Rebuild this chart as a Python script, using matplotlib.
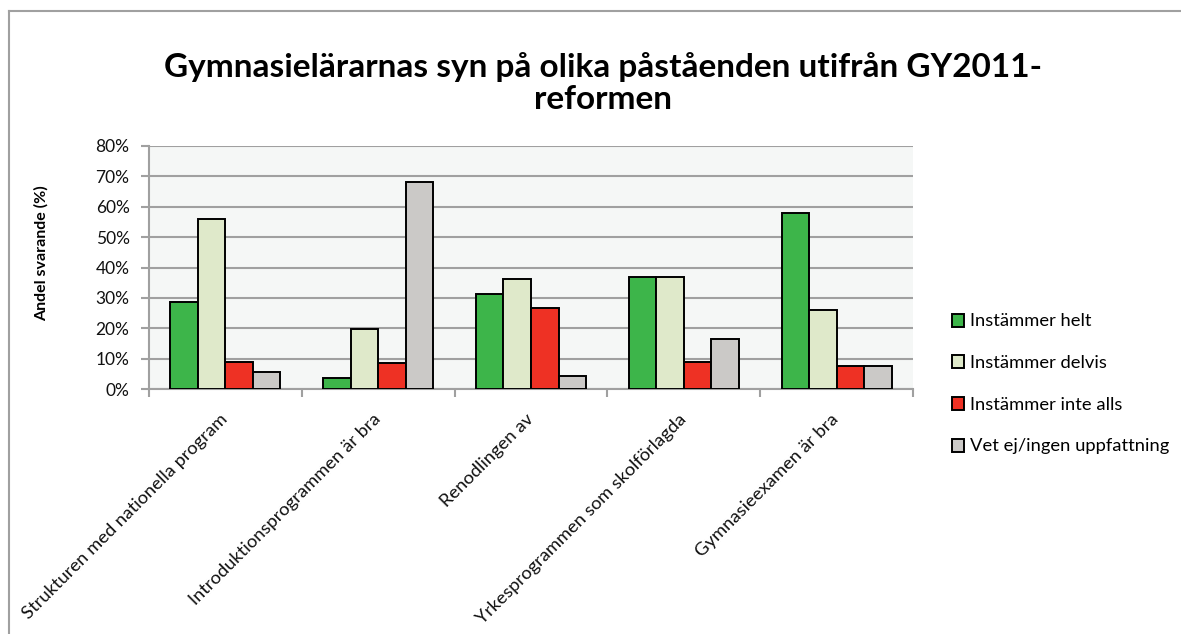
import matplotlib
matplotlib.use("Agg")
import matplotlib.pyplot as plt
from matplotlib.lines import Line2D
from matplotlib.ticker import FuncFormatter, FixedLocator
from matplotlib.transforms import ScaledTranslation
import numpy as np

categories = [
    "Strukturen med nationella program",
    "Introduktionsprogrammen är bra",
    "Renodlingen av",
    "Yrkesprogrammen som skolförlagda",
    "Gymnasieexamen är bra",
]
series_names = ["Instämmer helt", "Instämmer delvis", "Instämmer inte alls", "Vet ej/ingen uppfattning"]
instammer_helt = [28.6, 3.6, 31.4, 36.8, 58.0]
instammer_delvis = [56.0, 19.8, 36.1, 36.8, 26.0]
instammer_inte = [9.0, 8.5, 26.8, 8.9, 7.5]
vet_ej = [5.7, 68.0, 4.3, 16.3, 7.5]
values = [instammer_helt, instammer_delvis, instammer_inte, vet_ej]
colors = ["#3DB54A", "#DFE9CA", "#EE3124", "#CBC9C7"]
y_ticks = [0, 10, 20, 30, 40, 50, 60, 70, 80]

plt.rcParams['font.family'] = ['Lato', 'DejaVu Sans']

W, H = 1181, 634
fig = plt.figure(figsize=(W / 100, H / 100), dpi=100)
ax = fig.add_axes([149 / W, 1 - 389 / H, (913 - 149) / W, (389 - 146) / H])

# outer frame (left and top edges visible)
fig.add_artist(Line2D([9 / W, 9 / W], [0, 1 - 11 / H], transform=fig.transFigure, color="#A0A0A0", lw=1.5))
fig.add_artist(Line2D([9 / W, 1], [1 - 11 / H, 1 - 11 / H], transform=fig.transFigure, color="#A0A0A0", lw=1.5))

ax.set_facecolor("#F5F7F6")
x = np.arange(len(categories))
bw = 0.18
for i, (vals, c, name) in enumerate(zip(values, colors, series_names)):
    ax.bar(x + (i - 1.5) * bw, vals, width=bw, color=c, edgecolor="black", linewidth=1.4, label=name, zorder=3)

ax.set_xlim(-0.5, len(categories) - 0.5)
ax.set_ylim(0, 80)
ax.yaxis.set_major_locator(FixedLocator(y_ticks))
ax.yaxis.set_major_formatter(FuncFormatter(lambda v, p: f"{int(v)}%"))
ax.grid(axis="y", color="#A0A0A0", linewidth=1.5, zorder=0)
ax.set_axisbelow(True)

for s in ["top", "right"]:
    ax.spines[s].set_visible(False)
for s in ["left", "bottom"]:
    ax.spines[s].set_color("#A0A0A0")
    ax.spines[s].set_linewidth(1.5)

ax.set_xticks(x)
ax.set_xticklabels(categories, rotation=45, ha="right", va="top", rotation_mode="anchor",
                   fontsize=13.2, color="#111111")
ax.tick_params(axis="x", length=0, pad=16)
offset = ScaledTranslation(-6 / 100, 0, fig.dpi_scale_trans)
for lbl in ax.get_xticklabels():
    lbl.set_transform(lbl.get_transform() + offset)
ax.set_xticks(np.arange(-0.5, len(categories) + 0.5, 1), minor=True)
ax.tick_params(axis="x", which="minor", length=6, width=1.5, color="#A0A0A0", direction="out")
ax.tick_params(axis="y", length=6, width=1.5, color="#A0A0A0", labelsize=12.5, labelcolor="#111111", pad=8)

ax.set_ylabel("Andel svarande (%)", fontsize=11.5, fontweight="bold")
ax.yaxis.set_label_coords((49 - 149) / 764, (389 - 253) / 243)

fig.text(603 / W, 1 - 83 / H, "Gymnasielärarnas syn på olika påståenden utifrån GY2011-\nreformen",
         ha="center", va="center", fontsize=24, fontweight="bold", linespacing=1.15)

leg = ax.legend(loc="center left", bbox_to_anchor=(935 / W, 1 - 384 / H), bbox_transform=fig.transFigure,
                frameon=False, fontsize=13.2, handlelength=0.7, handleheight=0.7, handletextpad=0.3,
                labelspacing=1.4)

fig.savefig("out.png", dpi=100, facecolor="white")
